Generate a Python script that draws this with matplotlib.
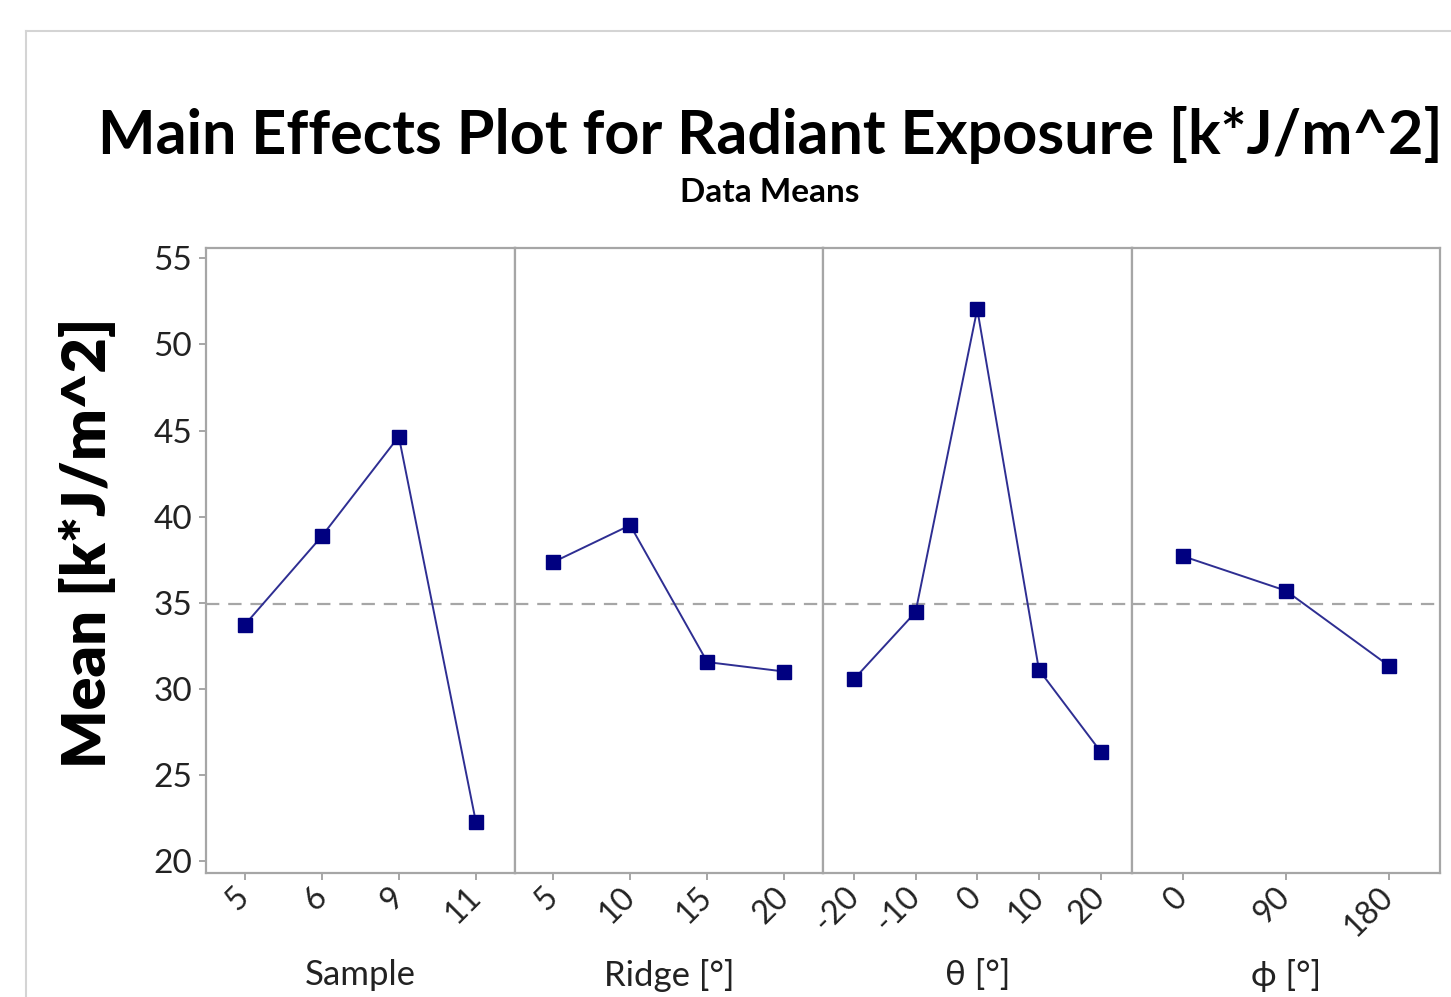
import matplotlib
matplotlib.use("Agg")
import matplotlib.pyplot as plt
from matplotlib.lines import Line2D

plt.rcParams['font.family'] = ['Lato', 'DejaVu Sans']

# ---- data ----
factors = ["Sample", "Ridge [°]", "θ [°]", "ϕ [°]"]
sample_levels = ["5", "6", "9", "11"]
sample_means = [33.7, 38.85, 44.65, 22.25]
ridge_levels = ["5", "10", "15", "20"]
ridge_means = [37.35, 39.5, 31.55, 31.0]
theta_levels = ["-20", "-10", "0", "10", "20"]
theta_means = [30.55, 34.45, 52.05, 31.1, 26.35]
phi_levels = ["0", "90", "180"]
phi_means = [37.7, 35.7, 31.35]
grand_mean = 34.9
yticks = [20, 25, 30, 35, 40, 45, 50, 55]

levels = [sample_levels, ridge_levels, theta_levels, phi_levels]
means = [sample_means, ridge_means, theta_means, phi_means]

W, H = 1451, 997
fig = plt.figure(figsize=(W / 100, H / 100), dpi=100)

# outer light frame
fig.add_artist(Line2D([26 / W, 1], [1 - 31 / H, 1 - 31 / H], color="#d4d4d4", lw=1.5))
fig.add_artist(Line2D([26 / W, 26 / W], [0, 1 - 31 / H], color="#d4d4d4", lw=1.5))

left, right, top, bottom = 206, 1440, 248, 873
pw = (right - left) / 4
spine_c = "#a6a6a6"
text_c = "#222222"

axes = []
for i in range(4):
    ax = fig.add_axes([(left + i * pw) / W, 1 - bottom / H, pw / W, (bottom - top) / H])
    n = len(levels[i])
    x = list(range(n))
    ax.plot(x, means[i], color="#2e2e92", lw=1.4, zorder=3)
    ax.plot(x, means[i], ls="none", marker="s", ms=9.5, color="#000080",
            markeredgecolor="#000080", zorder=4)
    ax.axhline(grand_mean, color="#a6a6a6", lw=1.6, ls=(0, (6, 4)), zorder=1)
    ax.set_xlim(-0.5, n - 0.5)
    ax.set_ylim(19.3, 55.6)
    ax.set_xticks(x)
    ax.set_xticklabels(levels[i], rotation=45, ha="right", va="center",
                       rotation_mode="anchor", fontsize=23, color=text_c)
    ax.set_yticks(yticks)
    for s in ax.spines.values():
        s.set_color(spine_c)
        s.set_linewidth(1.6)
    ax.tick_params(axis="both", direction="out", length=5, width=1.4, color=spine_c)
    ax.tick_params(axis="x", pad=9)
    if i == 0:
        ax.set_yticklabels([str(v) for v in yticks], fontsize=24, color=text_c)
        ax.tick_params(axis="y", pad=5)
    else:
        ax.tick_params(axis="y", left=False, labelleft=False)
    fig.text((left + (i + 0.5) * pw) / W, 1 - 975 / H, factors[i], ha="center",
             va="center", fontsize=25, color=text_c)
    axes.append(ax)

fig.text(770 / W, 1 - 135 / H, "Main Effects Plot for Radiant Exposure [k*J/m^2]",
         ha="center", va="center", fontsize=44, fontweight="bold", color="black")
fig.text(770 / W, 1 - 193 / H, "Data Means", ha="center", va="center",
         fontsize=24, fontweight="bold", color="black")
fig.text(88 / W, 1 - 543 / H, "Mean [k*J/m^2]", ha="center", va="center",
         rotation=90, fontsize=44, fontweight="heavy", color="black")

fig.savefig("out.png", dpi=100)
